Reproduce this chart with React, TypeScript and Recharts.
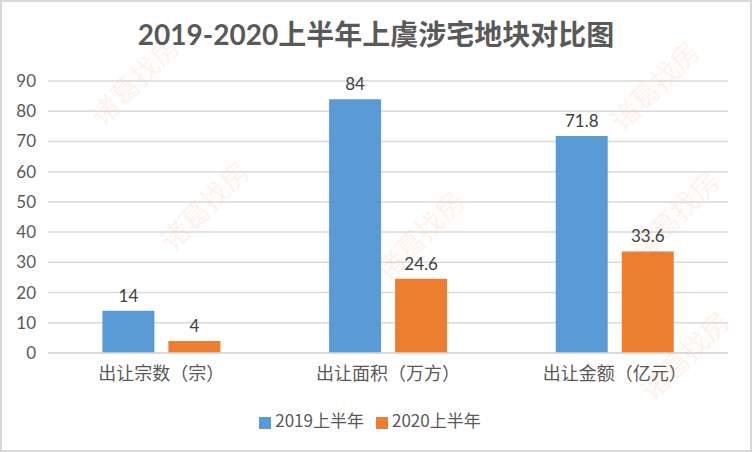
import { BarChart, Bar, XAxis, YAxis, CartesianGrid, Legend, LabelList } from 'recharts'

const categories = ['出让宗数（宗）', '出让面积（万方）', '出让金额（亿元）']
const h1_2019 = [14, 84, 71.8]
const h1_2020 = [4, 24.6, 33.6]
const yTicks = [0, 10, 20, 30, 40, 50, 60, 70, 80, 90]

const data = categories.map((name, i) => ({ name, a: h1_2019[i], b: h1_2020[i] }))

const font = "Lato, 'Noto Sans CJK SC', sans-serif"
const cjkFont = "'Noto Sans CJK SC', Lato, sans-serif"
const textColor = '#595959'

// faint watermark, as in the source image
const marks = [
  { left: 80, top: 105 },
  { left: 150, top: 230 },
  { left: 365, top: 260 },
  { left: 600, top: 110 },
  { left: 620, top: 240 },
  { left: 630, top: 380 },
]

export default function App() {
  return (
    <div style={{ position: 'absolute', left: 0, top: 0, width: 752, height: 452, background: '#fff', fontFamily: font, overflow: 'hidden' }}>
      <div style={{ position: 'absolute', inset: 0, border: '2px solid #d9d9d9', boxSizing: 'border-box', pointerEvents: 'none' }} />
      {marks.map((m, i) => (
        <div
          key={i}
          style={{
            position: 'absolute', left: m.left, top: m.top, fontSize: 28, color: 'rgba(250,190,150,0.2)',
            transform: 'rotate(-45deg)', transformOrigin: 'left top', whiteSpace: 'nowrap', pointerEvents: 'none',
            fontFamily: cjkFont,
          }}
        >
          诸葛找房
        </div>
      ))}
      <div style={{ position: 'absolute', left: 0, width: 752, top: 16, textAlign: 'center', fontSize: 28, fontWeight: 'bold', color: textColor, lineHeight: '36px' }}>
        2019-2020上半年上虞涉宅地块对比图
      </div>
      <BarChart
        width={752}
        height={452}
        data={data}
        margin={{ top: 81, right: 24, left: 0, bottom: 20 }}
        barCategoryGap="24%"
        barGap={14}
        style={{ position: 'absolute', left: 0, top: 0 }}
      >
        <CartesianGrid vertical={false} stroke="#d9d9d9" strokeWidth={1.5} />
        <XAxis
          dataKey="name"
          height={54}
          axisLine={{ stroke: '#d9d9d9', strokeWidth: 1.5 }}
          tickLine={false}
          tickSize={0}
          tickMargin={14}
          tick={{ fill: textColor, fontSize: 18, fontFamily: cjkFont }}
        />
        <YAxis
          domain={[0, 90]}
          ticks={yTicks}
          width={48}
          axisLine={false}
          tickLine={false}
          tickSize={0}
          tickMargin={12}
          tick={{ fill: textColor, fontSize: 17, fontFamily: font }}
        />
        <Legend
          iconType="square"
          iconSize={12}
          wrapperStyle={{ fontFamily: cjkFont, left: 0, width: 752 }}
          formatter={(v: string) => <span style={{ color: textColor, fontSize: 17, marginRight: 2 }}>{v}</span>}
        />
        <Bar dataKey="a" name="2019上半年" fill="#5b9bd5" isAnimationActive={false}>
          <LabelList dataKey="a" position="top" offset={9} fill="#404040" fontSize={17} fontFamily={font} />
        </Bar>
        <Bar dataKey="b" name="2020上半年" fill="#ed7d31" isAnimationActive={false}>
          <LabelList dataKey="b" position="top" offset={9} fill="#404040" fontSize={17} fontFamily={font} />
        </Bar>
      </BarChart>
    </div>
  )
}
